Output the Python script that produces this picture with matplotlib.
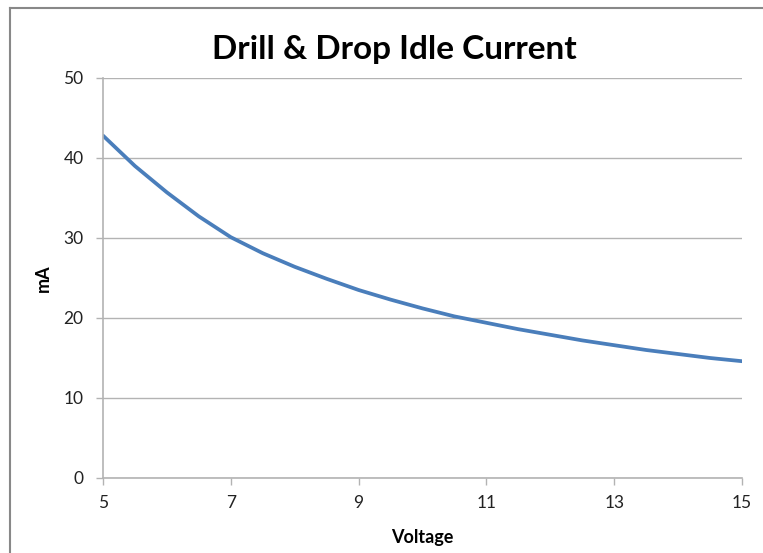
import matplotlib
matplotlib.use("Agg")
import matplotlib.pyplot as plt
from matplotlib.lines import Line2D

plt.rcParams['font.family'] = ['Lato', 'DejaVu Sans']

voltage = [5, 5.5, 6, 6.5, 7, 7.5, 8, 8.5, 9, 9.5, 10, 10.5, 11, 11.5, 12, 12.5, 13, 13.5, 14, 14.5, 15]
current_ma = [42.8, 39.0, 35.7, 32.7, 30.1, 28.1, 26.4, 24.9, 23.5, 22.3, 21.2, 20.2, 19.4, 18.6, 17.9, 17.2, 16.6, 16.0, 15.5, 15.0, 14.6]
x_ticks = [5, 7, 9, 11, 13, 15]
y_ticks = [0, 10, 20, 30, 40, 50]
title = "Drill & Drop Idle Current"
x_label = "Voltage"
y_label = "mA"

fig = plt.figure(figsize=(7.63, 5.53), dpi=100)
ax = fig.add_axes([103/763, 75/553, (742-103)/763, (478-78)/553])

ax.plot(voltage, current_ma, color='#4a7ebb', linewidth=2.7, solid_capstyle='round')

ax.set_xlim(5, 15)
ax.set_ylim(0, 50)
ax.set_xticks(x_ticks)
ax.set_yticks(y_ticks)
ax.grid(axis='y', color='#b3b3b3', linewidth=1.0)
ax.set_axisbelow(True)
for s in ['top', 'right']:
    ax.spines[s].set_visible(False)
for s in ['left', 'bottom']:
    ax.spines[s].set_color('#b3b3b3')
    ax.spines[s].set_linewidth(1.2)
ax.tick_params(axis='both', colors='#b3b3b3', labelcolor='#222222', labelsize=12.5,
               length=5, width=1.0, direction='out')
ax.tick_params(axis='y', pad=9)
ax.tick_params(axis='x', pad=7)
ax.set_xlabel(x_label, fontsize=13, fontweight='bold', labelpad=13)
ax.set_ylabel(y_label, fontsize=13, fontweight='bold', labelpad=8)
fig.text(394/763, 1 - 49/553, title, fontsize=24, fontweight='bold', ha='center', va='center')

# outer chart border (left and top visible)
fig.add_artist(Line2D([10/763, 10/763], [0, 1 - 8/553], transform=fig.transFigure, color='#888888', linewidth=1.5))
fig.add_artist(Line2D([10/763, 1], [1 - 8/553, 1 - 8/553], transform=fig.transFigure, color='#888888', linewidth=1.5))

fig.savefig('out.png', dpi=100)
